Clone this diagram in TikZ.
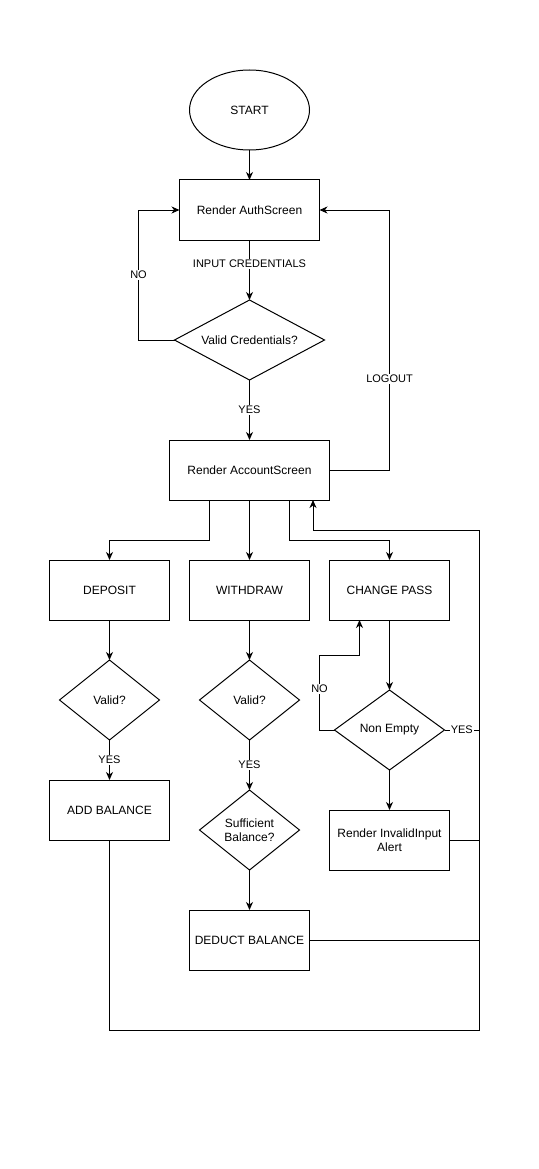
\documentclass[tikz,border=0pt]{standalone}
\usepackage{fontspec}
\setmainfont{Liberation Sans}
\usetikzlibrary{shapes.geometric,arrows.meta}
\begin{document}
\begin{tikzpicture}[x=1pt,y=-1pt,
  every node/.style={outer sep=0pt},
  txt/.style={font=\fontsize{12}{14}\selectfont},
  box/.style={txt,draw,line width=1pt,rectangle,minimum height=60pt,inner sep=2pt,align=center},
  dec/.style={txt,draw,line width=1pt,diamond,inner sep=0pt,minimum height=80pt,align=center},
  lbl/.style={fill=white,inner sep=1pt,font=\fontsize{11}{13}\selectfont},
  conn/.style={line width=1pt,-{Stealth[length=8pt,width=7pt,inset=2.5pt]}},
  seg/.style={line width=1pt}]
\useasboundingbox (0,0) rectangle (538,1169);
\node[txt,draw,ellipse,line width=1pt,minimum width=120pt,minimum height=80pt] (start) at (249.5,110) {START};
\node[box,minimum width=140pt] (auth) at (249.5,210) {Render AuthScreen};
\node[dec,aspect=1.875,minimum width=150pt] (vc) at (249.5,340) {Valid Credentials?};
\node[box,minimum width=160pt] (acc) at (249.5,470) {Render AccountScreen};
\node[box,minimum width=120pt] (dep) at (109.5,590) {DEPOSIT};
\node[box,minimum width=120pt] (wd) at (249.5,590) {WITHDRAW};
\node[box,minimum width=120pt] (cp) at (389.5,590) {CHANGE PASS};
\node[dec,aspect=1.25,minimum width=100pt] (dv) at (109.5,700) {Valid?};
\node[dec,aspect=1.25,minimum width=100pt] (wv) at (249.5,700) {Valid?};
\node[dec,aspect=1.375,minimum width=110pt] (ne) at (389.5,730) {Non Empty};
\node[box,minimum width=120pt] (ab) at (109.5,810) {ADD BALANCE};
\node[dec,aspect=1.25,minimum width=100pt] (sb) at (249.5,830) {Sufficient\\Balance?};
\node[box,minimum width=120pt] (al) at (389.5,840) {Render InvalidInput\\Alert};
\node[box,minimum width=120pt] (db) at (249.5,940) {DEDUCT BALANCE};
\coordinate (rr) at (479,530);

\draw[conn] (start) -- (auth);
\draw[conn] (auth) -- node[lbl,pos=0.4]{INPUT CREDENTIALS} (vc);
\draw[conn] (vc.west) -- ++(-36,0) |- node[lbl,pos=0.25]{NO} (auth.west);
\draw[conn] (vc) -- node[lbl]{YES} (acc);
\draw[conn] (acc.east) -- ++(60,0) |- node[lbl,pos=0.175]{LOGOUT} (auth.east);
\draw[conn] ([xshift=-40pt]acc.south) -- ++(0,40) -| (dep.north);
\draw[conn] (acc.south) -- (wd.north);
\draw[conn] ([xshift=40pt]acc.south) -- ++(0,40) -| (cp.north);
\draw[conn] (dep) -- (dv);
\draw[conn] (dv) -- node[lbl]{YES} (ab);
\draw[conn] (wd) -- (wv);
\draw[conn] (wv) -- node[lbl]{YES} (sb);
\draw[conn] (sb) -- (db);
\draw[conn] (cp) -- (ne);
\draw[conn] (ne) -- (al);
\draw[conn] (ne.west) -- ++(-15,0) -- ++(0,-75) node[lbl,pos=0.55]{NO} -| ([xshift=-30pt]cp.south);
\draw[seg] (ne.east) -- node[lbl]{YES} (ne.east -| rr);
\draw[seg] (al.east) -- (al.east -| rr);
\draw[seg] (db.east) -- (db.east -| rr);
\draw[conn] (ab.south) -- ++(0,190) -| (rr) -| ([xshift=63.5pt]acc.south);
\end{tikzpicture}
\end{document}
